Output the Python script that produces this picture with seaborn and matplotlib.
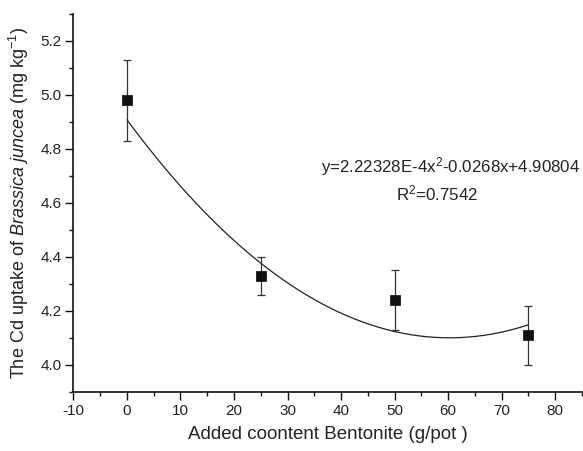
import numpy as np
import pandas as pd
import matplotlib
matplotlib.use("Agg")
import matplotlib.pyplot as plt
import seaborn as sns

# Data
bentonite = [0, 25, 50, 75]
cd_uptake = [4.98, 4.33, 4.24, 4.11]
cd_err = [0.15, 0.07, 0.11, 0.11]
fit_coef = [2.22328e-4, -0.0268, 4.90804]  # displayed quadratic fit coefficients
x_ticks = [-10, 0, 10, 20, 30, 40, 50, 60, 70, 80]
y_ticks = [4.0, 4.2, 4.4, 4.6, 4.8, 5.0, 5.2]

sns.set_theme(style="ticks")
plt.rcParams['font.family'] = ['Liberation Sans', 'DejaVu Sans']
plt.rcParams['mathtext.fontset'] = 'custom'
plt.rcParams['mathtext.rm'] = 'Liberation Sans'
plt.rcParams['mathtext.it'] = 'Liberation Sans:italic'
plt.rcParams['mathtext.default'] = 'regular'
plt.rcParams['axes.unicode_minus'] = False

fig = plt.figure(figsize=(5.83, 4.51), dpi=100)
ax = fig.add_axes([0.126, 0.131, 0.872, 0.838])

df = pd.DataFrame({"x": bentonite, "y": cd_uptake, "err": cd_err})

# fitted curve
xf = np.linspace(min(bentonite), max(bentonite), 200)
yf = np.polyval(fit_coef, xf)
sns.lineplot(x=xf, y=yf, ax=ax, color="#222222", linewidth=0.9)

ax.errorbar(df["x"], df["y"], yerr=df["err"], fmt="none", ecolor="#333333",
            elinewidth=0.9, capsize=3, capthick=0.9, zorder=3)
sns.scatterplot(data=df, x="x", y="y", ax=ax, marker="s", s=45, color="#111111",
                edgecolor="#111111", zorder=4)

ax.set_xlim(-10, 85)
ax.set_ylim(3.9, 5.3)
ax.set_xticks(x_ticks)
ax.set_yticks(y_ticks)
ax.set_xticks(np.arange(-5, 86, 10), minor=True)
ax.set_yticks(np.arange(3.9, 5.31, 0.2), minor=True)
ax.set_yticklabels([f"{v:.1f}" for v in y_ticks])
ax.tick_params(axis="both", which="major", direction="out", length=5.5, width=1.0,
               labelsize=11, pad=3, color="#111111", labelcolor="#222222")
ax.tick_params(axis="both", which="minor", direction="out", length=3, width=1.0,
               color="#111111")
for s in ["top", "right"]:
    ax.spines[s].set_visible(False)
for s in ["left", "bottom"]:
    ax.spines[s].set_linewidth(1.2)
    ax.spines[s].set_color("#111111")

ax.set_xlabel("Added coontent Bentonite (g/pot )", fontsize=13.5, color="#222222", labelpad=6)
ax.set_ylabel(r"The Cd uptake of $\it{Brassica\ juncea}$ (mg kg$^{-1}$)", fontsize=13,
              color="#222222", labelpad=7)

ax.text(0.996, 0.595, r"y=2.22328E-4x$^{2}$-0.0268x+4.90804", transform=ax.transAxes,
        ha="right", va="center", fontsize=12.2, color="#222222")
ax.text(0.715, 0.524, r"R$^{2}$=0.7542", transform=ax.transAxes,
        ha="center", va="center", fontsize=12.2, color="#222222")

fig.savefig("out.png", dpi=100)
